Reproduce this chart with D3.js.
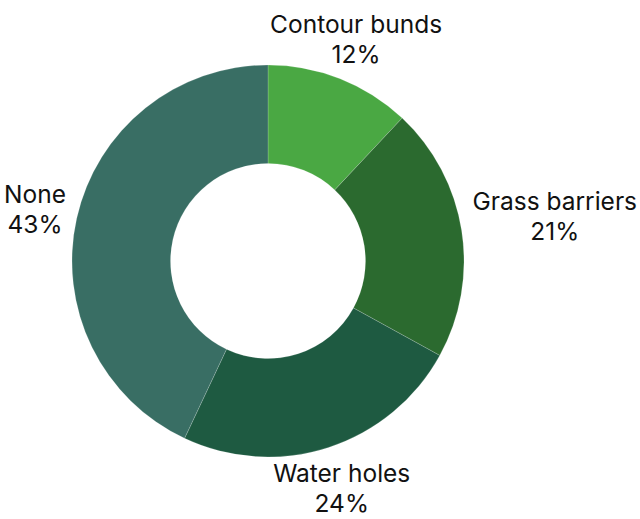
<!DOCTYPE html>
<html>
<head>
<meta charset="utf-8">
<script src="https://cdn.jsdelivr.net/npm/d3@7"></script>
<style>
  html, body { margin: 0; padding: 0; background: #fff; }
  svg { display: block; }
  .lbl { font-family: Inter, "Noto Sans", sans-serif; font-size: 24.5px; fill: #111; }
</style>
</head>
<body>
<svg id="chart" width="640" height="519"></svg>
<script>
// Soil and water conservation measures (share of households)
const categories = ["Contour bunds", "Grass barriers", "Water holes", "None"];
const shares = [12, 21, 24, 43];
const colors = ["#4aa843", "#2b6a2f", "#1e5a41", "#396e64"];

const width = 640, height = 519;
const cx = 268, cy = 261;
const outerR = 196, innerR = 97.5;
const labelGap = 11;     // clearance between ring and label box
const lineStep = 30;     // distance between the two label lines

const data = categories.map((c, i) => ({ name: c, value: shares[i], color: colors[i] }));

const svg = d3.select("#chart");
const g = svg.append("g").attr("transform", `translate(${cx},${cy})`);

const pie = d3.pie().value(d => d.value).sort(null);
const arc = d3.arc().innerRadius(innerR).outerRadius(outerR);
const arcs = pie(data);

g.selectAll("path.slice")
  .data(arcs)
  .join("path")
  .attr("class", "slice")
  .attr("d", arc)
  .attr("fill", d => d.data.color)
  .attr("stroke", "#fff")
  .attr("stroke-opacity", 0.35)
  .attr("stroke-width", 0.5);

// Labels: name on the first line, percentage beneath, pushed out along
// the slice's middle angle until the text box clears the ring.
const labels = g.selectAll("text.lbl")
  .data(arcs)
  .join("text")
  .attr("class", "lbl")
  .attr("text-anchor", "middle");

labels.append("tspan").attr("x", 0).attr("y", 0).text(d => d.data.name);
labels.append("tspan").attr("x", 0).attr("y", lineStep).text(d => d.data.value + "%");

labels.each(function(d) {
  const bb = this.getBBox();
  const hw = bb.width / 2, hh = bb.height / 2;
  const boxCy = bb.y + hh;           // vertical centre of box relative to first baseline
  const a = (d.startAngle + d.endAngle) / 2;
  const ux = Math.sin(a), uy = -Math.cos(a);
  const tx = Math.abs(ux) > 1e-6 ? hw / Math.abs(ux) : Infinity;
  const ty = Math.abs(uy) > 1e-6 ? hh / Math.abs(uy) : Infinity;
  const dist = outerR + labelGap + Math.min(tx, ty);
  const px = ux * dist, py = uy * dist;
  d3.select(this).attr("transform", `translate(${px},${py - boxCy})`);
});
</script>
</body>
</html>
